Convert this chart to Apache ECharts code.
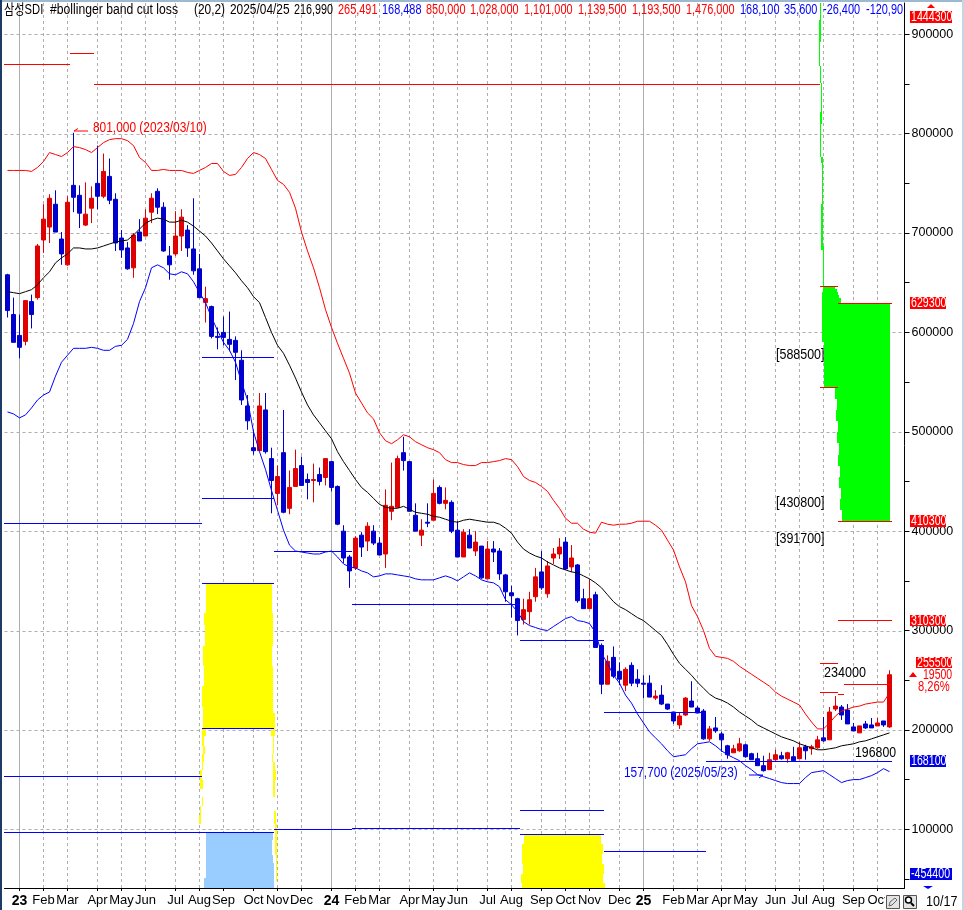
<!DOCTYPE html>
<html>
<head>
<meta charset="utf-8">
<title>삼성SDI</title>
<script src="https://cdn.jsdelivr.net/npm/echarts@6/dist/echarts.min.js"></script>
<style>
  html, body { margin: 0; padding: 0; background: #fff; }
  #chart { width: 964px; height: 910px; }
</style>
</head>
<body>
<div id="chart"></div>
<script>
// weekly prices, in thousands of won
var opens = [658,618,597,591,631,635,693,706,729,694,668,748,738,708,725,750,737,757,734,695,685,665,701,697,721,742,726,677,679,697,703,684,664,630,626,596,600,593,592,572,526,484,481,522,473,438,479,423,445,466,452,451,457,454,470,445,400,374,363,396,390,400,388,377,420,424,479,470,416,396,409,411,444,428,429,401,374,396,380,385,352,382,380,356,338,332,311,319,334,359,337,373,377,389,364,366,332,322,336,285,246,273,259,245,265,251,247,247,232,235,226,218,205,215,229,222,219,191,202,196,184,177,179,185,176,171,164,160,170,174,171,173,171,183,181,182,192,190,221,223,220,203,197,206,205,204,209,203];
var closes = [622,590,585,632,618,687,714,735,701,679,731,736,720,719,735,737,762,733,690,683,664,698,692,715,735,726,682,668,697,716,685,662,635,634,596,595,595,588,580,532,511,481,526,480,451,455,419,444,463,446,449,452,450,473,444,407,373,360,393,384,405,388,376,426,425,473,471,420,400,401,408,438,428,431,400,374,399,383,389,353,382,379,357,339,335,310,321,331,354,343,365,377,384,362,373,330,322,332,283,246,269,254,251,261,247,247,246,233,234,226,221,209,214,232,223,217,191,201,199,190,175,181,186,173,170,164,159,170,175,171,177,169,182,179,183,190,189,218,224,215,206,199,204,202,202,207,205,255.5];
var lows = [615,590,574,587,604,633,680,690,701,668,667,721,705,707,710,724,735,729,682,675,663,655,692,697,710,719,681,653,677,682,676,658,635,610,594,583,587,581,552,527,502,477,481,478,418,426,418,417,445,446,432,429,446,446,440,406,368,343,361,374,380,386,376,363,411,424,461,420,400,385,404,411,427,422,398,374,374,383,375,352,352,369,351,329,313,295,306,306,329,341,333,367,372,361,359,328,322,322,283,236,246,252,245,239,244,243,232,233,230,225,220,206,201,214,223,217,190,189,197,178,171,177,178,172,170,164,158,160,169,170,167,169,171,170,175,181,188,190,219,210,206,199,197,201,202,204,203,202];
var highs = [659,635,618,632,638,689,729,739,743,701,737,801,748,751,747,788,780,775,740,703,691,700,714,724,740,745,731,687,722,724,708,735,679,646,627,605,616,621,596,582,537,502,539,539,484,466,522,461,482,475,458,468,464,473,470,446,406,376,395,399,409,406,394,442,469,476,495,470,428,412,428,452,446,444,431,410,402,402,400,385,390,390,383,357,345,333,332,339,363,380,370,383,393,394,386,367,342,352,339,287,275,284,268,263,268,261,255,255,240,245,226,218,217,233,249,224,221,204,213,198,185,185,192,186,177,177,174,177,180,178,178,183,188,185,185,194,213,223,234,225,226,207,204,209,212,212,209,260];

// bollinger band (20,2), thousands of won
var upperBand = [763,763,763,763,762,766,772,781,779,777,781,787,786,784,781,786,791,794,795,795,793,788,776,771,763,763,764,763,763,763,761,760,763,766,770,770,762,758,759,766,775,781,779,775,764,753,749,741,725,701,682,665,645,623,605,589,574,559,539,529,519,513,499,491,488,492,497,495,490,487,484,482,479,472,469,469,467,466,466,469,469,470,471,473,472,465,455,451,449,445,440,431,423,413,408,408,402,399,398,409,407,406,407,407,408,410,410,410,406,401,391,381,364,349,325,314,300,282,274,273,272,269,264,260,256,252,248,244,238,234,231,228,225,216,208,201,201,207,214,219,221,223,224,226,227,228,228,237];
var middleBand = [641,640,639,641,643,648,655,661,670,675,679,685,685,684,684,685,687,689,691,692,693,698,704,710,713,715,714,711,711,713,711,707,702,697,690,682,674,667,660,652,645,636,630,615,600,587,579,567,554,540,527,517,509,501,493,480,470,461,452,444,439,433,427,424,423,423,425,422,419,418,417,415,414,412,410,409,411,412,411,410,409,409,407,403,398,389,382,378,375,373,369,366,363,361,359,358,355,352,348,343,336,329,324,321,317,313,310,305,300,295,286,276,267,261,255,248,242,236,232,230,227,223,218,214,210,205,202,199,196,193,191,189,186,184,182,180,180,181,182,184,185,186,188,189,191,193,195,197];
var lowerBand = [520,518,514,517,524,532,537,540,556,570,577,584,584,584,585,584,582,582,586,587,593,609,631,645,665,668,665,659,658,661,659,651,640,630,615,602,590,582,570,550,532,500,480,462,441,421,401,386,380,379,378,377,377,379,380,374,367,364,363,360,358,354,355,357,357,356,355,354,352,351,351,351,353,355,353,350,354,358,355,351,349,348,344,331,326,319,309,305,303,301,300,304,308,312,314,310,309,307,298,277,267,255,247,235,227,216,207,198,192,186,179,173,174,175,181,186,187,188,184,179,175,172,169,164,160,155,153,151,149,147,146,146,146,152,157,158,159,155,151,147,149,150,150,152,154,157,161,158];

// month labels on the time axis: bar number and text
var monthBars = [2,6,10,15,19,23,28,32,36,41,45,49,54,58,62,67,71,75,80,84,89,93,97,102,106,111,115,119,123,128,132,136,141,145];
var monthNames = ['23','Feb','Mar','Apr','May','Jun','Jul','Aug','Sep','Oct','Nov','Dec','24','Feb','Mar','Apr','May','Jun','Jul','Aug','Sep','Oct','Nov','Dec','25','Feb','Mar','Apr','May','Jun','Jul','Aug','Sep','Oct'];
var yearBars = [2,54,106];

// level segments: from bar, to bar, price (thousands)
var redLevels = [[-0.5,10.5,870],[10.5,14.5,881],[14.5,135.5,850],[135.5,138.5,646.3],[138.5,147.5,629.3],[135.5,138.5,545],[138.5,147.5,410.3],[138.5,147.5,310.3],[135.5,138.5,267],[135.5,138.5,238],[138.5,139.5,236],[139.5,147.5,246]];
var blueLevels = [[-0.5,32.5,408],[32.5,44.5,575],[32.5,44.5,433],[44.5,57.5,380],[32.5,44.5,347.6],[57.5,85.5,326.5],[85.5,99.5,290.3],[99.5,116.5,218],[116.5,147.5,168.3],[-0.5,32.5,153.5],[32.5,44.5,201.8],[85.5,99.5,119.6],[85.5,99.5,95],[99.5,116.5,78],[-0.5,32.5,97],[32.5,44.5,97],[44.5,57.5,100],[57.5,85.5,101.5]];

// price profiles: from bar, to bar, low price, high price (thousands)
var greenProfile = [
  [135.56,135.72,914.4,931],[135.39,135.67,892.6,914.4],[135.39,135.56,868.1,892.6],[135.5,135.67,851.3,868.1],
  [135.61,135.83,821.8,851.3],[135.5,135.83,809.8,821.8],[135.5,135.72,776.3,809.8],[135.61,135.94,770.2,776.3],
  [135.83,136.06,729.3,770.2],[135.72,135.94,687,729.3],[135.72,136.11,683,687],[136,136.17,646.8,683],
  [136.06,138.06,643.4,646.1],[136.06,138.28,640.7,643.4],[135.89,138.5,637.4,640.7],[135.89,138.72,634.4,637.4],[135.89,139,629.4,634.4],
  [135.83,147.17,590.8,629.4],[136.11,147.17,544.9,590.8],[138,147.17,532.8,544.9],[138.33,147.17,522,532.8],
  [138.17,147.17,510.7,522],[138.5,147.17,499.6,510.7],[138.33,147.17,488.5,499.6],[138.67,147.17,476.8,488.5],
  [138.5,147.17,465.7,476.8],[138.83,147.17,454.3,465.7],[138.67,147.17,443.6,454.3],[139,147.17,432.5,443.6],
  [138.83,147.17,421.5,432.5],[139.17,147.17,410.3,421.5]
];
var yellowProfile = [
  [33.17,44.11,317.5,347.6],[32.83,44.33,305.7,317.5],[33.06,44.28,284.6,305.7],[32.72,44.17,264.5,284.6],
  [32.83,44.33,243.7,264.5],[32.56,44.39,222.9,243.7],[32.67,44.39,216.9,222.9],[32.67,44.67,201.8,216.9],
  [32.44,33.11,193.4,201.8],[32.44,32.89,184.3,193.4],[32.61,33.06,176,184.3],[32.56,32.78,167.6,176],
  [32.5,32.72,159.2,167.6],[32.17,32.5,149.1,159.2],[32.22,32.67,140.5,149.1],[32.44,32.5,123.6,132],
  [32.22,32.39,114.6,123.6],[32.06,32.33,105.2,114.6],
  [44.06,44.67,193.4,201.8],[44.39,44.5,184.3,193.4],[44.28,44.39,176,184.3],[44.17,44.39,167.6,176],
  [44.28,44.67,159.2,167.6],[44.39,44.83,149.1,159.2],[44.39,44.72,140.5,149.1],[44.39,44.61,132,140.5],
  [44.5,44.83,105.2,117.9],[44.61,45.06,94.5,105.2],[44.72,45.06,74.4,94.5],[44.83,45.06,47.5,74.4],
  [86.17,99,85,95],[85.83,99.33,75,85],[85.83,99.17,65,75],[86,99.5,55,65],[85.67,99.33,46,55],[85.83,99.67,41,46]
];
var blueProfile = [
  [33.17,44.33,89.4,96.8],[33.17,44.17,74.4,89.4],[33.17,44.28,66,74.4],[33.17,44.44,50.9,66],[32.83,44.5,41,50.9]
];

var axisValues = [900,800,700,600,500,400,300,200,100];
var axisTicks = [900000,850000,800000,750000,700000,650000,600000,550000,500000,450000,400000,350000,300000,250000,200000,150000,100000,50000];

var FONT = '"Liberation Sans","Noto Sans CJK KR",sans-serif';
var RED = '#ff0000', BLUE = '#0000ff', GRID = '#adadad';
var yMin = 40900, yMax = 931500, barMin = -0.5, barMax = 149.5;

var categories = [];
for (var c = 0; c < 150; c++) {
  var at = monthBars.indexOf(c);
  categories.push(at >= 0 ? monthNames[at] : '');
}
function isMonth(i) { return monthBars.indexOf(i) >= 0; }

var candles = opens.map(function(o, i) {
  return [o * 1000, closes[i] * 1000, lows[i] * 1000, highs[i] * 1000];
});
function won(list) { return list.map(function(v) { return v * 1000; }); }

function rectSeries(rows, color, z, name) {
  return {
    type: 'custom', name: name, xAxisIndex: 1, yAxisIndex: 0, z: z, silent: true, clip: true,
    encode: { x: [0, 1], y: [2, 3] },
    data: rows.map(function(r) { return [r[0], r[1], r[2] * 1000, r[3] * 1000]; }),
    renderItem: function(params, api) {
      var a = api.coord([api.value(0), api.value(3)]);
      var b = api.coord([api.value(1), api.value(2)]);
      var x0 = Math.floor(a[0]), y0 = Math.round(a[1]);
      return { type: 'rect', shape: { x: x0, y: y0, width: Math.max(1, Math.floor(b[0]) - x0), height: Math.max(1, Math.round(b[1]) - y0) }, style: { fill: color } };
    }
  };
}
function levelSeries(rows, color, name) {
  return {
    type: 'custom', name: name, xAxisIndex: 1, yAxisIndex: 0, z: 6, silent: true,
    encode: { x: [0, 1], y: 2 },
    data: rows.map(function(r) { return [r[0], r[1], r[2] * 1000]; }),
    renderItem: function(params, api) {
      var a = api.coord([api.value(0), api.value(2)]);
      var b = api.coord([api.value(1), api.value(2)]);
      var x0 = Math.floor(a[0]);
      return { type: 'rect', shape: { x: x0, y: Math.round(a[1]), width: Math.floor(b[0]) - x0, height: 1 }, style: { fill: color } };
    }
  };
}
// grid drawn as custom marks so month and year lines can differ on one axis
function vGrid(bars, dash, tickLen, name) {
  return {
    type: 'custom', name: name, xAxisIndex: 1, yAxisIndex: 0, z: 0, silent: true, clip: false,
    encode: { x: 0, y: [1, 2] },
    data: bars.map(function(b) { return [b, yMin, yMax]; }),
    renderItem: function(params, api) {
      var top = api.coord([api.value(0), api.value(2)]);
      var bot = api.coord([api.value(0), api.value(1)]);
      var x = Math.floor(top[0]) + 0.5;
      var kids = [{ type: 'line', shape: { x1: x, y1: top[1], x2: x, y2: bot[1] }, style: { stroke: GRID, lineWidth: 1, lineDash: dash } }];
      if (tickLen) {
        kids.push({ type: 'line', shape: { x1: x, y1: bot[1], x2: x, y2: bot[1] + tickLen }, style: { stroke: '#000', lineWidth: 1 } });
      }
      return { type: 'group', children: kids };
    }
  };
}
function hGrid(values, name) {
  return {
    type: 'custom', name: name, xAxisIndex: 1, yAxisIndex: 0, z: 0, silent: true,
    encode: { x: [0, 1], y: 2 },
    data: values.map(function(v) { return [barMin, barMax, v * 1000]; }),
    renderItem: function(params, api) {
      var a = api.coord([api.value(0), api.value(2)]);
      var b = api.coord([api.value(1), api.value(2)]);
      var y = Math.round(a[1]) + 0.5;
      return { type: 'line', shape: { x1: a[0], y1: y, x2: b[0], y2: y }, style: { stroke: GRID, lineWidth: 1, lineDash: [3, 3] } };
    }
  };
}
function bandLine(values, color, name) {
  return {
    type: 'line', name: name, data: won(values), xAxisIndex: 0, yAxisIndex: 0, z: 5,
    showSymbol: false, symbol: 'none', silent: true,
    lineStyle: { color: color, width: 1 }
  };
}

// text helper for everything the axes do not draw, squeezed to the narrow look of the original
function txt(x, y, text, fill, sx) {
  return {
    type: 'text', z: 20, x: x, y: y, scaleX: sx || 0.78, silent: true,
    style: { text: text, fill: fill, font: '14px ' + FONT, align: 'left', verticalAlign: 'middle' }
  };
}
function tag(x, y, w, h, text, bg) {
  return [
    { type: 'rect', z: 19, shape: { x: x, y: y, width: w, height: h }, style: { fill: bg }, silent: true },
    txt(x + 1, y + h / 2 + 0.5, text, '#fff', 0.76)
  ];
}
function poly(points, color, width, z) {
  return { type: 'polyline', z: z || 20, shape: { points: points }, style: { stroke: color, fill: null, lineWidth: width || 1 }, silent: true };
}

var graphics = [
  // window frame
  { type: 'rect', z: 30, shape: { x: 0, y: 0, width: 964, height: 2 }, style: { fill: '#9db9cf' }, silent: true },
  { type: 'rect', z: 30, shape: { x: 0, y: 0, width: 2, height: 910 }, style: { fill: '#1d3b66' }, silent: true },
  { type: 'rect', z: 30, shape: { x: 962, y: 0, width: 2, height: 910 }, style: { fill: '#c4d6e4' }, silent: true },

  // title row
  txt(4, 10, '삼성SDI', '#000', 0.8), txt(50, 10, '#bollinger band cut loss', '#000', 0.87), txt(194, 10, '(20,2)', '#000', 0.85),
  txt(230, 10, '2025/04/25', '#000', 0.85), txt(294, 10, '216,990', '#000', 0.77),
  txt(338, 10, '265,491', RED), txt(382, 10, '168,488', BLUE), txt(426, 10, '850,000', RED),
  txt(470, 10, '1,028,000', RED), txt(524, 10, '1,101,000', RED), txt(578, 10, '1,139,500', RED),
  txt(632, 10, '1,193,500', RED), txt(686, 10, '1,476,000', RED), txt(740, 10, '168,100', BLUE),
  txt(784, 10, '35,600', BLUE), txt(823, 10, '-26,400', BLUE), txt(866, 10, '-120,90', BLUE),

  // high and low notes
  txt(93, 128, '801,000 (2023/03/10)', RED, 0.85),
  poly([[88, 131], [74, 131]], RED), poly([[78, 128.5], [74, 131]], RED),
  txt(624, 773, '157,700 (2025/05/23)', BLUE, 0.85),
  poly([[749, 775], [763, 775]], BLUE), poly([[759, 778], [763, 775]], BLUE),

  // profile notes
  txt(776, 355, '[588500]', '#000', 0.89), txt(776, 503, '[430800]', '#000', 0.89), txt(776, 539, '[391700]', '#000', 0.89),
  txt(824, 673, '234000', '#000', 0.9), txt(855, 753, '196800', '#000', 0.88),

  // last price block
  { type: 'polygon', z: 20, shape: { points: [[913, 672], [909, 677], [917, 677]] }, style: { fill: RED }, silent: true },
  txt(923, 675, '19500', RED, 0.75), txt(918, 687, '8,26%', RED, 0.8),
  { type: 'polygon', z: 20, shape: { points: [[931, 4], [927, 8], [935, 8]] }, style: { fill: RED }, silent: true },
  { type: 'polygon', z: 20, shape: { points: [[923, 886], [933, 886], [928, 889]] }, style: { fill: BLUE }, silent: true },

  // date and buttons
  { type: 'rect', z: 18, shape: { x: 885, y: 889, width: 40, height: 21 }, style: { fill: '#fff' }, silent: true },
  { type: 'rect', z: 20, shape: { x: 886.5, y: 895.5, width: 13, height: 13 }, style: { fill: '#e4e4e4', stroke: '#555' }, silent: true },
  poly([[889, 906], [890, 902], [895, 898], [897, 900], [892, 905], [889, 906]], '#666'),
  { type: 'rect', z: 20, shape: { x: 903.5, y: 895.5, width: 13, height: 13 }, style: { fill: '#e4e4e4', stroke: '#555' }, silent: true },
  { type: 'circle', z: 21, shape: { cx: 908.5, cy: 900, r: 3 }, style: { fill: '#fff', stroke: '#000', lineWidth: 1.5 }, silent: true },
  poly([[911, 903], [914, 906]], '#000', 2, 21),
  txt(926, 902, '10/17', '#000', 0.9)
]
  .concat(tag(910, 11, 42, 12, '1444300', RED))
  .concat(tag(910, 297, 36, 12, '629300', RED))
  .concat(tag(910, 515, 36, 12, '410300', RED))
  .concat(tag(910, 615, 36, 11, '310300', RED))
  .concat(tag(916, 657, 36, 11, '255500', RED))
  .concat(tag(910, 755, 36, 12, '168100', '#0000e6'))
  .concat(tag(910, 868, 42, 12, '-454400', '#0000e6'));

var chart = echarts.init(document.getElementById('chart'), null, { renderer: 'canvas' });
chart.setOption({
  animation: false,
  backgroundColor: '#fff',
  grid: { left: 4.5, right: 59.5, top: 3, bottom: 22, containLabel: false },
  xAxis: [{
    type: 'category',
    data: categories,
    boundaryGap: true,
    axisLine: { onZero: false, lineStyle: { color: '#000', width: 1 } },
    axisTick: { show: false },
    axisLabel: {
      interval: function(i) { return isMonth(i); },
      margin: 6, color: '#000', fontSize: 13, fontFamily: FONT,
      formatter: function(v) { return /^\d/.test(v) ? '{y|' + v + '}' : v; },
      rich: { y: { fontWeight: 'bold', fontSize: 14, fontFamily: 'Liberation Sans', color: '#000' } }
    },
    splitLine: { show: false }
  }, {
    // bar-number scale used by the grid, the levels and the profiles
    type: 'value', position: 'bottom', min: barMin, max: barMax,
    axisLine: { show: false, onZero: false }, axisLabel: { show: false }, axisTick: { show: false },
    splitLine: { show: false }
  }],
  yAxis: [{
    type: 'value', position: 'right', min: yMin, max: yMax, scale: true,
    axisLine: { show: true, onZero: false, lineStyle: { color: '#000', width: 1 } },
    axisTick: { show: true, length: 5, customValues: axisTicks, lineStyle: { color: '#000' } },
    axisLabel: { show: true, customValues: won(axisValues), margin: 7, color: '#000', fontSize: 12.5, fontFamily: FONT, formatter: function(v) { return String(v); } },
    splitLine: { show: false }
  }],
  series: [
    hGrid(axisValues, 'price grid'),
    vGrid(monthBars.filter(function(b) { return yearBars.indexOf(b) < 0; }), [3, 3], 3, 'month grid'),
    vGrid(yearBars, null, 3, 'year grid'),
    rectSeries(greenProfile, '#00ff00', 1, 'green profile'),
    rectSeries(yellowProfile, '#ffff00', 1, 'yellow profile'),
    rectSeries(blueProfile, '#99ccff', 1, 'blue profile'),
    {
      type: 'candlestick', name: '삼성SDI', data: candles, xAxisIndex: 0, yAxisIndex: 0, z: 3,
      barWidth: 4, silent: true,
      itemStyle: { color: '#e00000', color0: '#0000cc', borderColor: '#e00000', borderColor0: '#0000cc', borderWidth: 1 }
    },
    bandLine(upperBand, RED, 'upper'),
    bandLine(middleBand, '#000', 'middle'),
    bandLine(lowerBand, BLUE, 'lower'),
    levelSeries(redLevels, RED, 'red levels'),
    levelSeries(blueLevels, BLUE, 'blue levels')
  ],
  graphic: { elements: graphics }
});
</script>
</body>
</html>
